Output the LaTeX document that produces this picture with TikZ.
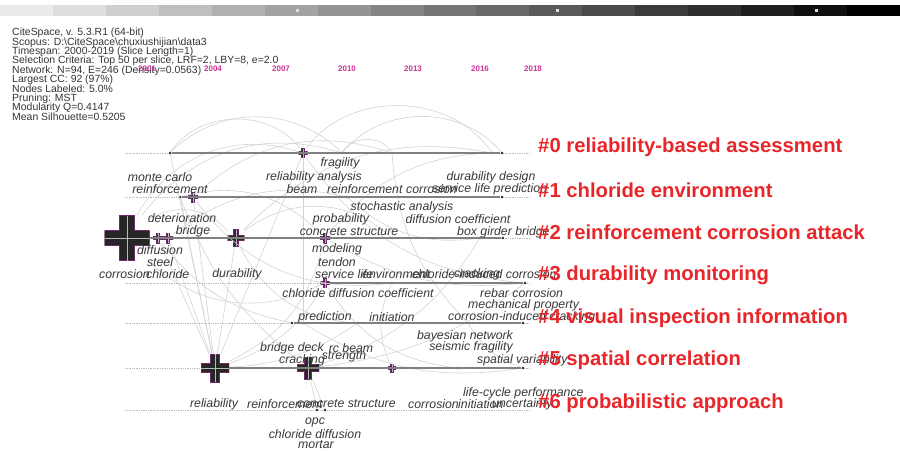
\documentclass[tikz,border=0pt]{standalone}
\usepackage{fontspec}
\setmainfont{Liberation Sans}
\definecolor{citered}{HTML}{E8262A}
\definecolor{yearpink}{HTML}{CC3399}
\definecolor{hubedge}{HTML}{6B2A6B}
\definecolor{termgray}{HTML}{383838}
\lineskiplimit=-10pt
\begin{document}
\begin{tikzpicture}[x=0.03cm, y=-0.03cm]
    \tikzset{axis/.style={gray!55, densely dotted, line width=0.5pt}}
    \tikzset{span/.style={black!50, line width=1.1pt}}
    \tikzset{link/.style={gray!35, line width=0.5pt}}
    \tikzset{term/.style={inner sep=0pt, text=termgray,
        font=\itshape\fontsize{10.5}{11}\selectfont}}
    \tikzset{cluster/.style={anchor=west, inner sep=0pt, text=citered,
        font=\bfseries\fontsize{17.3}{18}\selectfont}}
    \tikzset{year/.style={inner sep=0pt, text=yearpink,
        font=\bfseries\fontsize{6.8}{7}\selectfont}}
    \tikzset{dot/.style={circle, fill=gray!30!black, inner sep=0pt,
        minimum size=2.2pt}}
    \tikzset{hub/.style n args={2}{rectangle, inner sep=0pt, minimum size=#1,
        path picture={
        \filldraw[fill=#2, draw=hubedge, line width=0.6pt]
            (path picture bounding box.center) ++(-#1/6,#1/2) -- ++(#1/3,0)
            -- ++(0,-#1/3) -- ++(#1/3,0) -- ++(0,-#1/3) -- ++(-#1/3,0)
            -- ++(0,-#1/3) -- ++(-#1/3,0) -- ++(0,#1/3) -- ++(-#1/3,0)
            -- ++(0,#1/3) -- ++(#1/3,0) -- cycle;
        \draw[gray!55, line width=0.4pt]
            (path picture bounding box.north) -- (path picture bounding box.south)
            (path picture bounding box.west) -- (path picture bounding box.east);}}}

    \useasboundingbox (0,0) rectangle (900,450);

    % colour scale
    \foreach \i in {0,...,16} {
        \pgfmathtruncatemacro\tone{8+\i*92/16}
        \fill[black!\tone] (\i*52.94,5) rectangle (\i*52.94+52.94,16);
    }
    \foreach \x in {297,557,816}
        \fill[white!75!gray] (\x-1.5,9) rectangle (\x+1.5,12);

    \node (info) [anchor=north west, align=left, inner sep=0pt, text=black!80,
        font=\fontsize{8.9}{8}\selectfont] at (12,28)
        {CiteSpace, v. 5.3.R1 (64-bit)\\
        Scopus: D:\textbackslash CiteSpace\textbackslash chuxiushijian\textbackslash data3\\
        Timespan: 2000-2019 (Slice Length=1)\\
        Selection Criteria: Top 50 per slice, LRF=2, LBY=8, e=2.0\\
        Network: N=94, E=246 (Density=0.0563)\\
        Largest CC: 92 (97\%)\\
        Nodes Labeled: 5.0\%\\
        Pruning: MST\\
        Modularity Q=0.4147\\
        Mean Silhouette=0.5205};

    \node (y2001) [year] at (147,69) {2001};
    \node (y2004) [year] at (213,69) {2004};
    \node (y2007) [year] at (281,69) {2007};
    \node (y2010) [year] at (347,69) {2010};
    \node (y2013) [year] at (413,69) {2013};
    \node (y2016) [year] at (480,69) {2016};
    \node (y2018) [year] at (533,69) {2018};

    \foreach \y in {153,197,238,283,323,368,410}
        \draw[axis] (125,\y) -- (530,\y);

    % cluster #0
    \node (r0a) [dot] at (170,153) {};
    \node (r0b) [hub={0.27cm}{black!85}] at (303,153) {};
    \node (r0c) [dot] at (342,153) {};
    \node (r0d) [dot] at (392,153) {};
    \node (r0e) [dot] at (492,153) {};
    \node (r0f) [dot] at (502,153) {};
    % cluster #1
    \node (r1a) [dot] at (180,197) {};
    \node (r1b) [hub={0.3cm}{black!80}] at (193,197) {};
    \node (r1c) [dot] at (347,197) {};
    \node (r1d) [dot] at (502,197) {};
    % cluster #2
    \node (r2a) [hub={1.35cm}{black!85}] at (127,238) {};
    \node (r2b) [hub={0.3cm}{hubedge!80!black}] at (158,238) {};
    \node (r2c) [hub={0.3cm}{hubedge!80!black}] at (168,238) {};
    \node (r2d) [hub={0.5cm}{black!85}] at (236,238) {};
    \node (r2e) [hub={0.3cm}{hubedge!80!black}] at (325,238) {};
    \node (r2f) [dot] at (392,238) {};
    \node (r2g) [dot] at (480,238) {};
    \node (r2h) [dot] at (503,238) {};
    % cluster #3
    \node (r3a) [hub={0.27cm}{hubedge!80!black}] at (325,283) {};
    \node (r3b) [dot] at (392,283) {};
    \node (r3c) [dot] at (525,283) {};
    % cluster #4
    \node (r4a) [dot] at (292,323) {};
    \node (r4b) [dot] at (303,323) {};
    \node (r4c) [dot] at (358,323) {};
    \node (r4d) [dot] at (468,323) {};
    \node (r4e) [dot] at (523,323) {};
    % cluster #5
    \node (r5a) [hub={0.84cm}{black!85}] at (215,368) {};
    \node (r5b) [hub={0.66cm}{black!85}] at (308,368) {};
    \node (r5c) [hub={0.24cm}{hubedge!80!black}] at (392,368) {};
    \node (r5d) [dot] at (457,368) {};
    \node (r5e) [dot] at (523,368) {};
    % cluster #6
    \node (r6a) [dot] at (317,410) {};
    \node (r6b) [dot] at (325,410) {};

    \foreach \a/\b/\bend in {r0a/r0b/55, r0b/r0e/55, r0c/r0d/60, r0a/r0c/45,
        r0c/r0f/50, r2a/r0b/40, r2a/r0c/35, r1b/r0d/30, r2d/r0e/28, r2e/r0f/25,
        r2a/r2d/40, r2d/r2f/40, r2c/r1c/25, r1c/r2g/-25, r2e/r3c/-18,
        r3a/r5d/-25, r2d/r4c/-30, r4b/r5e/-20, r5a/r2e/-25, r5a/r3a/-20,
        r5a/r4c/-15, r5b/r2g/-20, r3b/r5c/-25, r0b/r3c/-25, r1b/r3b/-30,
        r4d/r5e/-20, r2b/r4a/-20, r1a/r5b/-15, r0d/r4d/-20, r5b/r3c/-15,
        r2a/r3a/-35, r1a/r2e/30}
        \draw[link] (\a) to[bend left=\bend] (\b);
    \foreach \b in {r2b,r2c,r2d,r1b,r0a,r1a,r0b}
        \draw[link] (r5a) -- (\b);
    \draw[link] (r0b) -- (r4b);
    \draw[link] (r5b) -- (r6a);
    \draw[link] (r5b) -- (r6b);

    \draw[span] (r0a) -- (r0f);
    \draw[span] (r1a) -- (r1d);
    \draw[span] (r2a) -- (r2h);
    \draw[span] (r3a) -- (r3c);
    \draw[span] (r4a) -- (r4e);
    \draw[span] (r5a) -- (r5e);

    % terms
    \node (t1) [term] at (160,177) {monte carlo};
    \node (t2) [term] at (170,189) {reinforcement};
    \node (t3) [term] at (340,163) {fragility};
    \node (t4) [term] at (314,177) {reliability analysis};
    \node (t5) [term] at (302,189) {beam};
    \node (t6) [term, anchor=west] at (327,189) {reinforcement};
    \node (t7) [term, anchor=west] at (406,189) {corrosion};
    \node (t8) [term, anchor=west] at (432,189) {service life prediction};
    \node (t9) [term] at (491,177) {durability design};
    \node (t10) [term] at (402,207) {stochastic analysis};
    \node (t11) [term] at (341,219) {probability};
    \node (t12) [term] at (458,219) {diffusion coefficient};
    \node (t13) [term] at (349,232) {concrete structure};
    \node (t14) [term, anchor=west] at (457,232) {box girder bridge};
    \node (t15) [term] at (182,218) {deterioration};
    \node (t16) [term] at (193,231) {bridge};
    \node (t17) [term] at (160,250) {diffusion};
    \node (t18) [term] at (160,262) {steel};
    \node (t19) [term, anchor=east] at (150,274) {corrosion};
    \node (t20) [term, anchor=west] at (146,274) {chloride};
    \node (t21) [term] at (237,274) {durability};
    \node (t22) [term] at (337,249) {modeling};
    \node (t23) [term] at (337,262) {tendon};
    \node (t24) [term, anchor=west] at (315,274) {service life};
    \node (t25) [term, anchor=west] at (362,274) {environment};
    \node (t26) [term, anchor=west] at (412,274) {chloride-induced corrosion};
    \node (t27) [term, anchor=west] at (454,274) {cracking};
    \node (t28) [term] at (358,293) {chloride diffusion coefficient};
    \node (t29) [term, anchor=west] at (480,293) {rebar corrosion};
    \node (t30) [term, anchor=west] at (468,305) {mechanical property};
    \node (t31) [term, anchor=west] at (448,317) {corrosion-induced cracking};
    \node (t32) [term] at (325,317) {prediction};
    \node (t33) [term] at (392,317) {initiation};
    \node (t34) [term] at (465,336) {bayesian network};
    \node (t35) [term] at (471,347) {seismic fragility};
    \node (t36) [term, anchor=west] at (477,360) {spatial variability};
    \node (t37) [term] at (292,348) {bridge deck};
    \node (t38) [term] at (302,360) {cracking};
    \node (t39) [term] at (351,348) {rc beam};
    \node (t40) [term] at (344,356) {strength};
    \node (t41) [term, anchor=west] at (463,393) {life-cycle performance};
    \node (t42) [term] at (214,404) {reliability};
    \node (t43) [term, anchor=west] at (247,404) {reinforcement};
    \node (t44) [term, anchor=west] at (297,404) {concrete structure};
    \node (t45) [term, anchor=west] at (408,404) {corrosion};
    \node (t46) [term, anchor=west] at (458,404) {initiation};
    \node (t47) [term, anchor=west] at (492,404) {uncertainty};
    \node (t48) [term] at (315,422) {opc};
    \node (t49) [term] at (315,434) {chloride diffusion};
    \node (t50) [term] at (316,445) {mortar};

    % clusters
    \node (c0) [cluster] at (538,147) {\#0 reliability-based assessment};
    \node (c1) [cluster] at (538,190) {\#1 chloride environment};
    \node (c2) [cluster] at (538,232) {\#2 reinforcement corrosion attack};
    \node (c3) [cluster] at (538,275) {\#3 durability monitoring};
    \node (c4) [cluster] at (538,318) {\#4 visual inspection information};
    \node (c5) [cluster] at (538,360) {\#5 spatial correlation};
    \node (c6) [cluster] at (538,403) {\#6 probabilistic approach};
\end{tikzpicture}
\end{document}
